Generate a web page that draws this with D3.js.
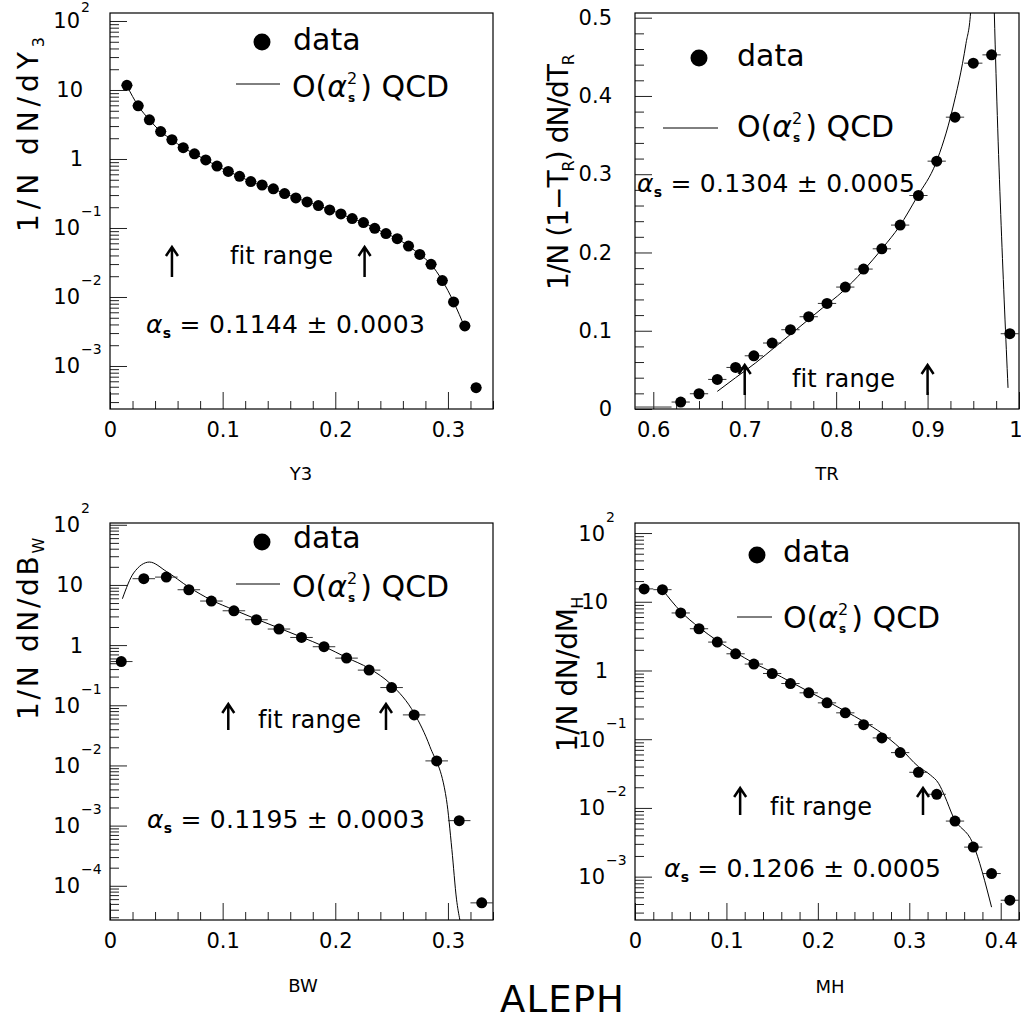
<!DOCTYPE html>
<html>
<head>
<meta charset="utf-8">
<script src="https://cdn.jsdelivr.net/npm/d3@7"></script>
<style>
  body { margin: 0; background: #fff; }
  svg text { font-family: "DejaVu Sans", sans-serif; fill: #000; }
</style>
</head>
<body>
<svg width="1021" height="1021"></svg>
<script>
// ---- data ----
const y3X = [0.015, 0.025, 0.035, 0.045, 0.055, 0.065, 0.075, 0.085, 0.095, 0.105, 0.115, 0.125, 0.135, 0.145, 0.155, 0.165,
             0.175, 0.185, 0.195, 0.205, 0.215, 0.225, 0.235, 0.245, 0.255, 0.265, 0.275, 0.285, 0.295, 0.305, 0.315, 0.325];
const y3Val = [11.7, 5.9, 3.7, 2.5, 1.9, 1.46, 1.19, 0.97, 0.79, 0.66, 0.56, 0.47, 0.42, 0.37, 0.315, 0.273,
               0.239, 0.211, 0.183, 0.160, 0.137, 0.120, 0.099, 0.083, 0.070, 0.0546, 0.0414, 0.0297, 0.0173, 0.00847, 0.00381, 0.000484];
const y3FitX = [0.015, 0.025, 0.035, 0.045, 0.055, 0.065, 0.075, 0.085, 0.095, 0.105, 0.115, 0.125, 0.135, 0.145, 0.155, 0.165,
                0.175, 0.185, 0.195, 0.205, 0.215, 0.225, 0.235, 0.245, 0.255, 0.265, 0.275, 0.285, 0.295, 0.305, 0.315];
const y3FitVal = [11.5, 5.9, 3.7, 2.5, 1.9, 1.46, 1.19, 0.97, 0.79, 0.66, 0.56, 0.47, 0.42, 0.37, 0.315, 0.273,
                  0.239, 0.211, 0.183, 0.160, 0.137, 0.120, 0.099, 0.083, 0.070, 0.0546, 0.0414, 0.0297, 0.0173, 0.0085, 0.0036];

const trX = [0.63, 0.65, 0.67, 0.69, 0.71, 0.73, 0.75, 0.77, 0.79, 0.81, 0.83, 0.85, 0.87, 0.89, 0.91, 0.93, 0.95, 0.97, 0.99];
const trVal = [0.0089, 0.0195, 0.0378, 0.0531, 0.068, 0.0843, 0.1013, 0.1179, 0.1349, 0.1558, 0.1788, 0.2047, 0.235,
               0.2728, 0.3167, 0.3729, 0.4419, 0.4525, 0.0962];
const trFitX = [0.670, 0.690, 0.712, 0.734, 0.756, 0.785, 0.807, 0.829, 0.851, 0.869, 0.889, 0.909, 0.927, 0.942, 0.947, 0.960, 0.973, 0.988];
const trFitVal = [0.0225, 0.040, 0.059, 0.080, 0.101, 0.129, 0.150, 0.176, 0.206, 0.233, 0.272, 0.314, 0.382, 0.467, 0.506, 1.2, 0.506, 0.027];
const trLowBin = [0.58, 0.62, 0.0025];

const bwX = [0.01, 0.03, 0.05, 0.07, 0.09, 0.11, 0.13, 0.15, 0.17, 0.19, 0.21, 0.23, 0.25, 0.27, 0.29, 0.31, 0.33];
const bwVal = [0.533, 12.7, 13.5, 8.32, 5.40, 3.72, 2.64, 1.85, 1.34, 0.94, 0.608, 0.384, 0.197, 0.0692, 0.0119, 0.00121, 0.000052];
const bwFitX = [0.011, 0.021, 0.035, 0.050, 0.070, 0.090, 0.110, 0.130, 0.150, 0.170, 0.190, 0.210, 0.230, 0.250, 0.270,
                0.284, 0.2987, 0.3035, 0.3076, 0.3106];
const bwFitVal = [5.9, 15.8, 24, 16.8, 9.2, 5.6, 3.85, 2.7, 1.92, 1.36, 0.95, 0.62, 0.41, 0.218, 0.074,
                  0.0206, 0.0027, 0.0004, 0.00006, 0.000027];

const mhX = [0.01, 0.03, 0.05, 0.07, 0.09, 0.11, 0.13, 0.15, 0.17, 0.19, 0.21, 0.23, 0.25, 0.27, 0.29, 0.31, 0.33, 0.35, 0.37, 0.39, 0.41];
const mhVal = [15.4, 15.0, 6.87, 4.05, 2.59, 1.75, 1.24, 0.904, 0.646, 0.473, 0.338, 0.242, 0.163, 0.1045, 0.0638,
               0.0330, 0.0158, 0.00644, 0.00269, 0.00111, 0.000454];
const mhFitX = [0.030, 0.050, 0.070, 0.090, 0.110, 0.130, 0.150, 0.170, 0.190, 0.210, 0.230, 0.250, 0.270, 0.290, 0.310,
                0.323, 0.332, 0.339, 0.348, 0.3695, 0.390];
const mhFitVal = [15.0, 7.24, 4.24, 2.71, 1.83, 1.28, 0.948, 0.684, 0.494, 0.358, 0.256, 0.181, 0.122, 0.074, 0.0399,
                  0.0302, 0.0228, 0.0146, 0.00744, 0.00305, 0.00036];

const fitRanges = { y3: [0.055, 0.226], tr: [0.70, 0.90], bw: [0.105, 0.245], mh: [0.115, 0.315] };
const alphaText = { y3: "0.1144 \u00b1 0.0003", tr: "0.1304 \u00b1 0.0005", bw: "0.1195 \u00b1 0.0003", mh: "0.1206 \u00b1 0.0005" };

const svg = d3.select("svg");
let clipId = 0;

// stretch a text to a given width with letter spacing
function fitTo(sel, target) {
    const n = sel.text().length;
    const w = sel.node().getComputedTextLength();
    sel.attr("letter-spacing", ((target - w) / Math.max(1, n)).toFixed(2));
}

function formula(g, x, y, size) {
    const t1 = g.append("text").attr("x", x).attr("y", y).style("font-size", size + "px").text("O(");
    let w = t1.node().getComputedTextLength();
    const a = g.append("text").attr("x", x + w).attr("y", y).style("font-size", size + "px")
        .style("font-style", "italic").text("\u03b1");
    w += a.node().getComputedTextLength();
    const sup = g.append("text").attr("x", x + w).attr("y", y - 13).style("font-size", "16px").text("2");
    const sub = g.append("text").attr("x", x + w + 1).attr("y", y + 5).style("font-size", "12px")
        .style("font-weight", "bold").text("s");
    w += Math.max(sup.node().getComputedTextLength(), sub.node().getComputedTextLength()) + 3;
    g.append("text").attr("x", x + w).attr("y", y).style("font-size", size + "px").text(") QCD");
}

function drawPanel(p) {
    const g = svg.append("g");
    const x = d3.scaleLinear().domain(p.xDomain).range([p.left, p.right]);
    const y = (p.log ? d3.scaleLog() : d3.scaleLinear()).domain(p.yDomain).range([p.bottom, p.top]);

    // y ticks (inside frame)
    let yMajor, yMinor;
    if (p.log) {
        const all = y.ticks();
        yMajor = all.filter(v => Math.abs(Math.log10(v) - Math.round(Math.log10(v))) < 1e-6);
        yMinor = all.filter(v => !yMajor.includes(v));
    } else {
        yMajor = d3.range(0, 0.51, 0.1).map(v => +v.toFixed(2));
        yMinor = d3.range(0, 0.51, 0.02).map(v => +v.toFixed(2)).filter(v => !yMajor.includes(v));
    }
    const tickStyle = s => s.call(a => a.select(".domain").remove())
        .selectAll("line").attr("stroke", "#222").attr("stroke-width", 1);
    g.append("g").attr("transform", `translate(${p.left},0)`)
        .call(d3.axisRight(y).tickValues(yMajor).tickSize(17).tickFormat("")).call(tickStyle);
    g.append("g").attr("transform", `translate(${p.left},0)`)
        .call(d3.axisRight(y).tickValues(yMinor).tickSize(9).tickFormat("")).call(tickStyle);

    const xMajor = d3.range(p.xMajor[0], p.xDomain[1] + 1e-9, p.xMajor[1]).map(v => +v.toFixed(3));
    const xMinor = d3.range(p.xMinor[0], p.xDomain[1] + 1e-9, p.xMinor[1]).map(v => +v.toFixed(3))
        .filter(v => !xMajor.includes(v));
    g.append("g").attr("transform", `translate(0,${p.bottom})`)
        .call(d3.axisTop(x).tickValues(xMajor).tickSize(17).tickFormat("")).call(tickStyle);
    g.append("g").attr("transform", `translate(0,${p.bottom})`)
        .call(d3.axisTop(x).tickValues(xMinor).tickSize(8).tickFormat("")).call(tickStyle);

    // x tick labels
    const xl = g.append("g").attr("transform", `translate(0,${p.bottom})`)
        .call(d3.axisBottom(x).tickValues(xMajor).tickSize(0).tickPadding(13).tickFormat(d3.format("~g")));
    xl.select(".domain").remove();
    xl.attr("font-family", null).attr("font-size", null);
    xl.selectAll("text").style("font-size", "21px");
    xl.selectAll("text").filter(d => d === 1).attr("text-anchor", "end").attr("x", 3);

    // y tick labels
    if (p.log) {
        yMajor.forEach(v => {
            const e = Math.round(Math.log10(v));
            const py = y(v);
            if (e === 0 || e === 1) {
                g.append("text").attr("x", p.left - 27).attr("y", py + 7.5).attr("text-anchor", "end")
                    .style("font-size", "21px").text(e === 0 ? "1" : "10");
            } else {
                g.append("text").attr("x", p.left - 30).attr("y", py + 7.5).attr("text-anchor", "end")
                    .style("font-size", "21px").text("10");
                g.append("text").attr("x", p.left - 29).attr("y", Math.max(12, py - 11.5))
                    .style("font-size", "14px").text(e < 0 ? "\u2212" + (-e) : String(e));
            }
        });
    } else {
        const yl = g.append("g").attr("transform", `translate(${p.left},0)`)
            .call(d3.axisLeft(y).tickValues(yMajor).tickSize(0).tickPadding(23).tickFormat(d3.format("~g")));
        yl.select(".domain").remove();
        yl.attr("font-family", null).attr("font-size", null);
        yl.selectAll("text").style("font-size", "21px");
    }

    // frame
    g.append("rect").attr("x", p.left).attr("y", p.top)
        .attr("width", p.right - p.left).attr("height", p.bottom - p.top)
        .attr("fill", "none").attr("stroke", "#000").attr("stroke-width", 1.2);

    // clip
    const cid = "clip" + (clipId++);
    g.append("clipPath").attr("id", cid).append("rect")
        .attr("x", p.left).attr("y", p.top).attr("width", p.right - p.left).attr("height", p.bottom - p.top);
    const plot = g.append("g").attr("clip-path", `url(#${cid})`);

    // theory curve
    const fit = p.fitX.map((v, i) => [v, p.fitVal[i]]);
    plot.append("path").datum(fit)
        .attr("d", d3.line().x(d => x(d[0])).y(d => y(d[1])).curve(d3.curveMonotoneX))
        .attr("fill", "none").attr("stroke", "#000").attr("stroke-width", 1);

    // data: horizontal bin bars and markers
    const pts = p.dataX.map((v, i) => [v, p.dataVal[i]]);
    plot.selectAll(".bar").data(pts).join("line")
        .attr("x1", d => x(d[0] - p.halfBin)).attr("x2", d => x(d[0] + p.halfBin))
        .attr("y1", d => y(d[1])).attr("y2", d => y(d[1]))
        .attr("stroke", "#333").attr("stroke-width", 1);
    if (p.lowBin) {
        plot.append("line").attr("x1", x(p.lowBin[0])).attr("x2", x(p.lowBin[1]))
            .attr("y1", y(p.lowBin[2])).attr("y2", y(p.lowBin[2]))
            .attr("stroke", "#333").attr("stroke-width", 1);
    }
    plot.selectAll(".pt").data(pts).join("circle")
        .attr("cx", d => x(d[0])).attr("cy", d => y(d[1])).attr("r", 5.5).attr("fill", "#000");

    // legend
    g.append("circle").attr("cx", p.legDot[0]).attr("cy", p.legDot[1]).attr("r", 8.5).attr("fill", "#000");
    g.append("text").attr("x", p.legData[0]).attr("y", p.legData[1]).style("font-size", "30px").text("data");
    g.append("line").attr("x1", p.legLine[0]).attr("x2", p.legLine[1])
        .attr("y1", p.legLine[2]).attr("y2", p.legLine[2]).attr("stroke", "#000").attr("stroke-width", 1);
    formula(g, p.legFormula[0], p.legFormula[1], 30);

    // fit range
    const fr = g.append("text").attr("x", p.fitText[0]).attr("y", p.fitText[1]).style("font-size", "24px").text("fit range");
    fitTo(fr, p.fitText[2]);
    p.range.forEach(v => {
        const ax = x(v);
        g.append("path")
            .attr("d", `M${ax},${p.arrow[0]}L${ax},${p.arrow[1]}M${ax - 6},${p.arrow[0] + 9}L${ax},${p.arrow[0]}L${ax + 6},${p.arrow[0] + 9}`)
            .attr("fill", "none").attr("stroke", "#000").attr("stroke-width", 2.5);
    });

    // alpha_s
    const at = g.append("text").attr("x", p.alpha[0]).attr("y", p.alpha[1]).style("font-size", "25px");
    at.append("tspan").style("font-style", "italic").text("\u03b1");
    at.append("tspan").attr("dy", 5).style("font-size", "14px").style("font-weight", "bold").text("s");
    at.append("tspan").attr("dy", -5).text(" = " + p.alphaStr);
    fitTo(at, p.alpha[2]);

    // y title (rotated, top-aligned), subscripts drop toward the axis
    const yt = g.append("text").attr("transform", `translate(${p.yTitle[0]},${p.yTitle[1]}) rotate(-90)`)
        .attr("text-anchor", "end").style("font-size", "28px");
    p.yTitleParts.forEach(([s, sub], i) => {
        const prevSub = i > 0 && p.yTitleParts[i - 1][1];
        if (sub) yt.append("tspan").attr("dy", 6).style("font-size", "16px").text(s);
        else yt.append("tspan").attr("dy", prevSub ? -6 : 0).text(s);
    });
    fitTo(yt, p.yTitle[2]);

    // x title
    g.append("text").attr("x", p.xTitle[0]).attr("y", p.xTitle[1]).attr("text-anchor", "middle")
        .style("font-size", "18px").text(p.xTitleText);
}

drawPanel({
    left: 110, right: 493, top: 13, bottom: 409, log: true,
    xDomain: [0, 0.34], yDomain: [2.38e-4, 130.6], xMajor: [0, 0.1], xMinor: [0, 0.02],
    dataX: y3X, dataVal: y3Val, fitX: y3FitX, fitVal: y3FitVal, halfBin: 0.005,
    legDot: [262, 42], legData: [293, 50], legLine: [236, 280, 84], legFormula: [292, 97],
    fitText: [230, 264, 103], range: fitRanges.y3, arrow: [247, 277],
    alpha: [146, 333, 279], alphaStr: alphaText.y3,
    yTitle: [38, 32, 200], yTitleParts: [["1/N dN/dY", false], ["3", true]],
    xTitle: [301, 480], xTitleText: "Y3"
});

drawPanel({
    left: 635, right: 1019, top: 13, bottom: 409, log: false,
    xDomain: [0.58, 1.0], yDomain: [0, 0.506], xMajor: [0.6, 0.1], xMinor: [0.6, 0.025],
    dataX: trX, dataVal: trVal, fitX: trFitX, fitVal: trFitVal, halfBin: 0.01, lowBin: trLowBin,
    legDot: [699, 58], legData: [737, 66], legLine: [663, 718, 128], legFormula: [737, 137],
    fitText: [792, 387, 103], range: fitRanges.tr, arrow: [365, 395],
    alpha: [637, 192, 278], alphaStr: alphaText.tr,
    yTitle: [568, 55, 235], yTitleParts: [["1/N (1\u2212T", false], ["R", true], [") dN/dT", false], ["R", true]],
    xTitle: [827, 480], xTitleText: "TR"
});

drawPanel({
    left: 110, right: 493, top: 523, bottom: 920, log: true,
    xDomain: [0, 0.34], yDomain: [2.7e-5, 107], xMajor: [0, 0.1], xMinor: [0, 0.02],
    dataX: bwX, dataVal: bwVal, fitX: bwFitX, fitVal: bwFitVal, halfBin: 0.01,
    legDot: [262, 542], legData: [293, 548], legLine: [236, 280, 584], legFormula: [292, 597],
    fitText: [258, 728, 103], range: fitRanges.bw, arrow: [704, 730],
    alpha: [147, 828, 278], alphaStr: alphaText.bw,
    yTitle: [38, 535, 185], yTitleParts: [["1/N dN/dB", false], ["W", true]],
    xTitle: [303, 992], xTitleText: "BW"
});

drawPanel({
    left: 635, right: 1019, top: 523, bottom: 920, log: true,
    xDomain: [0, 0.42], yDomain: [2.34e-4, 140], xMajor: [0, 0.1], xMinor: [0, 0.02],
    dataX: mhX, dataVal: mhVal, fitX: mhFitX, fitVal: mhFitVal, halfBin: 0.01,
    legDot: [757, 555], legData: [783, 562], legLine: [737, 772, 617], legFormula: [783, 628],
    fitText: [770, 815, 102], range: fitRanges.mh, arrow: [788, 815],
    alpha: [664, 877, 277], alphaStr: alphaText.mh,
    yTitle: [577, 597, 155], yTitleParts: [["1/N dN/dM", false], ["H", true]],
    xTitle: [830, 993], xTitleText: "MH"
});

const aleph = svg.append("text").attr("x", 500).attr("y", 1012).style("font-size", "37px").text("ALEPH");
fitTo(aleph, 125);
</script>
</body>
</html>
